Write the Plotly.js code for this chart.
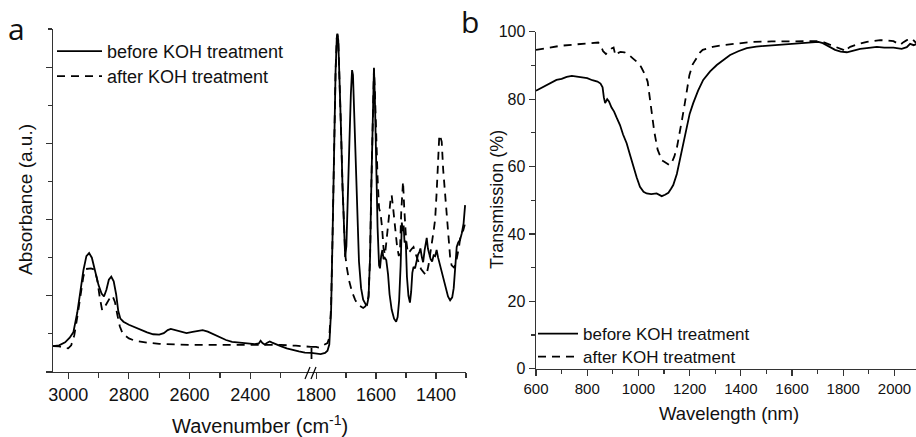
<!DOCTYPE html>
<html>
<head>
<meta charset="utf-8">
<script src="https://cdn.plot.ly/plotly-3.0.1.min.js"></script>
<style>html,body{margin:0;padding:0;background:#fff;}#chart{width:916px;height:437px;}</style>
</head>
<body>
<div id="chart"></div>
<script>
// ---------- Panel a: FTIR (broken wavenumber axis) ----------
// high-wavenumber segment (3050 -> 2200 cm-1)
var wnHighBefore = [3050,3030,3010,2995,2983,2970,2960,2950,2940,2931,2922,2912,2900,2890,2882,2874,2866,2858,2850,2842,2835,2828,2818,2800,2780,2760,2740,2720,2700,2685,2672,2662,2650,2630,2610,2590,2570,2557,2540,2520,2500,2480,2460,2440,2420,2400,2385,2372,2366,2360,2352,2344,2336,2328,2315,2300,2280,2260,2240,2220,2200];
var absHighBefore = [0.34,0.35,0.39,0.45,0.52,0.78,1.05,1.33,1.52,1.56,1.50,1.33,1.14,1.03,0.99,1.08,1.21,1.25,1.19,1.02,0.80,0.70,0.66,0.62,0.585,0.55,0.52,0.495,0.49,0.51,0.55,0.565,0.55,0.525,0.51,0.525,0.545,0.55,0.53,0.49,0.45,0.42,0.395,0.385,0.375,0.37,0.365,0.375,0.41,0.38,0.36,0.385,0.40,0.385,0.36,0.34,0.31,0.285,0.27,0.255,0.25];
var wnHighAfter = [3050,3030,3010,3000,2990,2980,2970,2960,2950,2943,2925,2912,2904,2896,2888,2880,2870,2860,2854,2846,2838,2830,2820,2800,2780,2760,2740,2700,2650,2600,2500,2400,2300,2250,2200];
var absHighAfter = [0.34,0.335,0.315,0.31,0.35,0.48,0.72,1.0,1.25,1.35,1.36,1.34,1.2,0.98,0.81,0.85,0.93,0.99,1.0,0.92,0.75,0.6,0.5,0.44,0.41,0.395,0.385,0.37,0.36,0.355,0.355,0.355,0.355,0.345,0.33];
// low-wavenumber segment (1817 -> 1300 cm-1)
var wnLowBefore = [1817,1800,1785,1770,1762,1756,1750,1745,1740,1735,1731,1729,1726,1722,1717,1712,1707,1703,1699,1694,1689,1684,1680,1677,1673,1668,1663,1657,1650,1643,1635,1630,1625,1620,1616,1612,1609,1607,1604,1600,1595,1590,1587,1583,1579,1575,1571,1566,1560,1555,1548,1540,1533,1528,1523,1518,1514,1511,1508,1505,1501,1497,1492,1487,1483,1479,1475,1470,1465,1460,1455,1452,1447,1443,1438,1431,1427,1423,1418,1413,1408,1403,1398,1393,1388,1381,1375,1367,1360,1353,1346,1341,1336,1331,1326,1320,1314,1308,1303];
var absLowBefore = [0.25,0.24,0.235,0.25,0.28,0.36,0.8,1.8,3.0,3.95,4.38,4.44,4.35,3.95,3.2,2.45,1.8,1.51,1.65,2.2,3.0,3.65,3.96,3.9,3.4,2.7,2.0,1.45,1.1,0.95,0.89,0.88,0.98,1.5,2.4,3.3,3.85,3.99,3.6,2.8,1.9,1.4,1.36,1.52,1.6,1.48,1.5,1.47,1.28,1.02,0.82,0.7,0.66,0.72,0.94,1.4,1.96,1.85,1.92,1.7,1.72,1.25,1.0,0.91,1.05,1.3,1.38,1.36,1.45,1.54,1.58,1.62,1.5,1.44,1.6,1.76,1.62,1.54,1.48,1.45,1.53,1.52,1.6,1.5,1.42,1.3,1.22,1.08,0.99,0.94,0.98,1.1,1.35,1.64,1.7,1.73,1.82,1.95,2.19];
var wnLowAfter = [1817,1800,1790,1780,1770,1762,1756,1750,1745,1740,1735,1731,1729,1726,1722,1717,1712,1707,1703,1698,1690,1680,1670,1660,1650,1643,1636,1630,1625,1620,1616,1612,1609,1607,1604,1600,1595,1590,1585,1580,1575,1570,1565,1558,1552,1548,1543,1537,1530,1524,1520,1516,1512,1510,1506,1500,1494,1488,1480,1475,1468,1460,1450,1440,1432,1425,1418,1414,1408,1403,1398,1394,1389,1385,1381,1376,1370,1364,1359,1353,1348,1340,1334,1329,1323,1318,1309,1303];
var absLowAfter = [0.33,0.33,0.32,0.34,0.36,0.38,0.45,0.85,1.8,3.0,3.95,4.38,4.43,4.35,3.95,3.2,2.45,1.85,1.55,1.38,1.2,1.05,0.95,0.88,0.85,0.84,0.86,0.9,1.0,1.5,2.4,3.3,3.85,3.97,3.7,3.1,2.55,2.15,2.08,1.9,1.62,1.54,1.7,2.0,2.25,2.32,2.15,1.9,1.65,1.52,1.6,2.1,2.45,2.5,2.15,1.75,1.56,1.58,1.62,1.64,1.55,1.45,1.35,1.3,1.27,1.4,1.55,1.69,1.85,2.0,2.35,2.69,3.11,3.08,3.02,2.65,2.35,2.04,1.78,1.51,1.40,1.37,1.42,1.51,1.65,1.8,1.86,1.95];

// ---------- Panel b: Transmission ----------
var wlBefore = [600,620,640,660,680,700,720,740,760,780,800,820,840,852,860,865,870,878,885,895,905,915,928,940,954,967,980,993,1006,1020,1032,1050,1071,1082,1091,1104,1117,1128,1136,1150,1162,1175,1188,1200,1214,1233,1253,1280,1306,1330,1358,1390,1423,1460,1500,1540,1579,1620,1657,1690,1703,1720,1735,1750,1768,1790,1814,1840,1866,1900,1931,1960,1996,2028,2048,2061,2075,2085];
var transBefore = [82.5,83.3,84.2,84.8,85.7,86.0,86.6,86.9,86.7,86.5,86.2,85.6,85.2,84.6,83.5,80.5,78.8,80.0,79.3,77.5,76.3,74.5,72.3,69.5,66.9,63.5,59.9,56.8,54.0,52.5,52.0,51.8,52.0,51.6,51.2,51.6,52.2,53.5,54.5,57.8,61.9,66.8,71.8,75.6,78.8,82.5,85.7,88.2,90.1,91.6,93.1,94.2,95.1,95.6,95.8,96.1,96.4,96.4,96.6,96.8,97.0,96.6,96.0,95.2,94.6,94.1,93.9,94.4,94.9,95.2,95.5,95.3,95.3,94.9,95.4,96.4,96.0,96.3];
var wlAfter = [600,650,694,750,800,843,855,862,873,885,895,903,910,918,930,945,960,978,995,1010,1024,1036,1049,1062,1075,1082,1092,1101,1112,1121,1130,1140,1150,1160,1170,1180,1190,1199,1212,1225,1240,1251,1290,1329,1400,1449,1520,1579,1640,1696,1725,1748,1770,1787,1800,1807,1815,1827,1860,1892,1944,1970,1996,2012,2022,2035,2048,2068,2078,2085];
var transAfter = [94.6,95.2,95.8,96.2,96.5,96.8,95.5,94.2,93.4,94.4,95.0,95.3,93.0,93.6,94.0,93.9,93.3,92.1,91.0,89.6,87.5,85.2,78.2,70.3,65.0,63.4,61.8,61.4,60.7,60.4,61.2,62.9,65.5,69.3,73.8,78.2,83.0,87.1,90.3,92.1,93.8,94.6,95.5,96.0,96.7,97.0,97.1,97.2,97.2,97.2,96.8,96.1,95.5,95.1,94.6,94.1,94.9,95.5,96.4,97.0,97.5,97.4,97.2,96.5,96.1,96.9,97.5,98.0,97.2,96.6];

var seriesNames = ['before KOH treatment','after KOH treatment'];

// ---------- helpers ----------
var W = 916, H = 437;
function px(x){ return x / W; }
function py(y){ return 1 - y / H; }
var FONT = 'Liberation Sans, Arial, sans-serif';
var AXC = '#333';
var solid = {color:'#000', width:1.8, dash:'solid'};
var dashed = {color:'#000', width:1.8, dash:'8px,6px'};

var traces = [
  {x: wnHighBefore, y: absHighBefore, xaxis:'x', yaxis:'y', mode:'lines', line: solid, name: seriesNames[0], legend:'legend', showlegend:true},
  {x: wnHighAfter, y: absHighAfter, xaxis:'x', yaxis:'y', mode:'lines', line: dashed, name: seriesNames[1], legend:'legend3', showlegend:true},
  {x: wnLowAfter, y: absLowAfter, xaxis:'x2', yaxis:'y', mode:'lines', line: dashed, name: seriesNames[1], showlegend:false},
  {x: wnLowBefore, y: absLowBefore, xaxis:'x2', yaxis:'y', mode:'lines', line: solid, name: seriesNames[0], showlegend:false},
  {x: wlBefore, y: transBefore, xaxis:'x3', yaxis:'y2', mode:'lines', line: solid, name: seriesNames[0], legend:'legend2', showlegend:true},
  {x: wlAfter, y: transAfter, xaxis:'x3', yaxis:'y2', mode:'lines', line: dashed, name: seriesNames[1], legend:'legend4', showlegend:true}
];

function baseAxis(extra){
  var a = {showline:true, linecolor:AXC, linewidth:1.4, showgrid:false, zeroline:false,
    ticks:'outside', ticklen:6, tickwidth:1.2, tickcolor:AXC,
    tickfont:{family:FONT, size:18, color:'#111'}, fixedrange:true};
  for (var k in extra) a[k] = extra[k];
  return a;
}
function leg(xpx, ypx, size, iw){
  return {x: px(xpx), y: py(ypx), xanchor:'left', yanchor:'top', bgcolor:'rgba(0,0,0,0)',
    font:{family:FONT, size:size, color:'#111'}, itemwidth:iw, tracegroupgap:0};
}

var layout = {
  width: W, height: H,
  margin: {l:0, r:0, t:0, b:0},
  paper_bgcolor:'#fff', plot_bgcolor:'rgba(0,0,0,0)',
  font:{family:FONT, color:'#111'},
  xaxis: baseAxis({domain:[px(53), px(311)], range:[3050, 2200], anchor:'y',
    tickmode:'array', tickvals:[3000,2800,2600,2400],
    minor:{tickmode:'array', tickvals:[2900,2700,2500,2300], ticks:'outside', ticklen:5, tickcolor:AXC}}),
  xaxis2: baseAxis({domain:[px(311), px(466)], range:[1817, 1300], anchor:'y',
    tickmode:'array', tickvals:[1800,1600,1400],
    minor:{tickmode:'array', tickvals:[1700,1500,1300], ticks:'outside', ticklen:5, tickcolor:AXC}}),
  yaxis: baseAxis({domain:[py(372), py(29)], range:[0, 4.5], anchor:'x',
    tickmode:'linear', tick0:0, dtick:1, showticklabels:false,
    minor:{dtick:0.5, tick0:0, ticks:'outside', ticklen:3.5, tickcolor:AXC}}),
  xaxis3: baseAxis({domain:[px(536), 1], range:[600, 2084], anchor:'y2',
    tickmode:'linear', tick0:600, dtick:200, tickfont:{family:FONT, size:15, color:'#111'},
    minor:{dtick:100, tick0:600, ticks:'outside', ticklen:4, tickcolor:AXC}}),
  yaxis2: baseAxis({domain:[py(368.7), py(31.7)], range:[0, 100], anchor:'x3',
    tickmode:'linear', tick0:0, dtick:20, tickfont:{family:FONT, size:16, color:'#111'},
    minor:{dtick:10, tick0:0, ticks:'outside', ticklen:4, tickcolor:AXC}}),
  legend: leg(52, 33, 18, 45),
  legend3: leg(52, 58, 18, 45),
  legend2: leg(533, 316, 17, 40),
  legend4: leg(533, 339, 17, 40),
  annotations: [
    {text:'Absorbance (a.u.)', x:px(25), y:py(200), xref:'paper', yref:'paper', textangle:-90,
      showarrow:false, xanchor:'center', yanchor:'middle', font:{family:FONT, size:19, color:'#111'}},
    {text:'Wavenumber (cm<sup>-1</sup>)', x:px(260), y:py(424), xref:'paper', yref:'paper',
      showarrow:false, xanchor:'center', yanchor:'middle', font:{family:FONT, size:20, color:'#111'}},
    {text:'Transmission (%)', x:px(497), y:py(200), xref:'paper', yref:'paper', textangle:-90,
      showarrow:false, xanchor:'center', yanchor:'middle', font:{family:FONT, size:18, color:'#111'}},
    {text:'Wavelength (nm)', x:px(729), y:py(413), xref:'paper', yref:'paper',
      showarrow:false, xanchor:'center', yanchor:'middle', font:{family:FONT, size:18.5, color:'#111'}},
    {text:'a', x:px(16), y:py(28), xref:'paper', yref:'paper', showarrow:false,
      xanchor:'center', yanchor:'middle', font:{family:'Open Sans, sans-serif', size:30, color:'#111'}},
    {text:'b', x:px(470), y:py(22), xref:'paper', yref:'paper', showarrow:false,
      xanchor:'center', yanchor:'middle', font:{family:'Open Sans, sans-serif', size:30, color:'#111'}}
  ],
  shapes: [
    {type:'line', xref:'paper', yref:'paper', x0:px(311.5), x1:px(311.5), y0:py(348), y1:py(359), line:{color:'#000', width:1.8}},
    {type:'line', xref:'paper', yref:'paper', x0:px(305), x1:px(310), y0:py(379), y1:py(367), line:{color:'#000', width:1.2}},
    {type:'line', xref:'paper', yref:'paper', x0:px(311), x1:px(316), y0:py(379), y1:py(367), line:{color:'#000', width:1.2}}
  ]
};

Plotly.newPlot('chart', traces, layout, {staticPlot:true, displayModeBar:false});
</script>
</body>
</html>
